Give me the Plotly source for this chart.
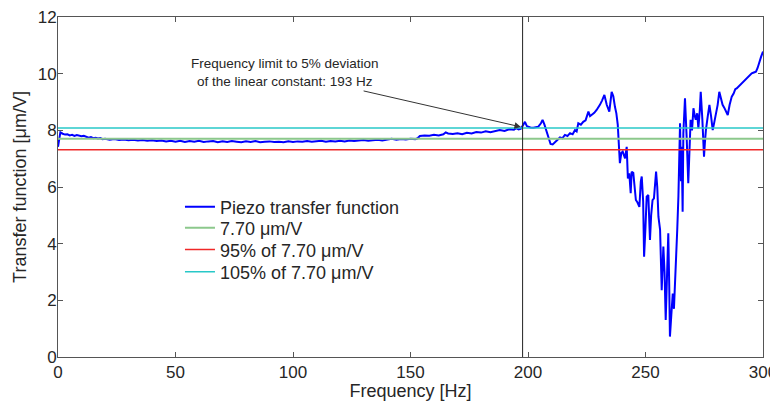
import plotly.graph_objects as go

# ---- data ----
freq = [0, 0.5, 1, 2, 3, 4, 5, 6, 7, 8, 9, 10, 11, 12, 13, 14, 15, 16, 17, 18, 19, 20,
        22, 24, 26, 28, 30, 32, 34, 36, 38, 40, 42, 44, 46, 48, 50, 52, 54, 56, 58, 60,
        62, 64, 66, 68, 70, 72, 74, 76, 78, 80, 82, 84, 86, 88, 90, 92, 94, 96, 98, 100,
        102, 104, 106, 108, 110, 112, 114, 116, 118, 120, 122, 124, 126, 128, 130, 132,
        134, 136, 138, 140, 142, 144, 146, 148, 150, 152, 153, 154, 156, 158, 160, 162,
        164, 165, 166, 168, 170, 172, 174, 176, 178, 180, 182, 184, 186, 188, 190, 192,
        194, 195, 196, 197, 198, 198.7, 199.5,
        200.1, 201, 202.3, 203.5, 204.4, 205.5, 206.2, 207, 207.7, 208.7, 209.6, 210.5,
        211.5, 212.5, 213.6, 214.6, 215.7, 216.8, 217.9, 219, 220, 220.7, 221.4, 222.5,
        223.5, 224.5, 225.7, 226.4, 227.1, 228.2, 229.2, 230, 230.6, 231.5, 232.5, 233.5,
        234.6, 235.6, 236.3, 237, 237.6, 238.2, 238.7, 239.1, 239.7, 240.3, 241.3, 242,
        242.5, 243.1, 243.7, 244.1, 244.8, 245.3, 245.9, 246.6, 247.4, 248, 248.4, 249,
        249.4, 250, 250.5, 251.2, 251.9, 252.4, 253, 253.6, 254.5, 255, 255.5, 256.2,
        256.9, 257.6, 258.1, 258.6, 259.2, 259.7, 260.1, 260.4, 261, 261.6, 262.1, 262.6,
        263.5, 264, 264.4, 264.7, 265.1, 265.4, 265.8, 266.1, 266.8, 267.2, 267.5, 268.2,
        268.8, 269.2, 269.8, 270.4, 271, 271.4, 272, 272.5, 273.1, 273.5, 274.2, 274.5,
        274.9, 275.3, 275.7, 276.5, 277.2, 277.9, 278.6, 279.3, 280, 280.7, 281.4, 282.1,
        282.8, 283.5, 284.2, 285, 285.8, 286.7, 287.5, 288.2, 288.8, 289.6, 290.3, 290.9,
        291.6, 292.3, 293, 293.8, 294.5, 295.2, 296.1, 297, 297.7, 298.4, 299.2, 300]
transfer = [7.42, 7.75, 7.93, 7.88, 7.85, 7.86, 7.82, 7.84, 7.80, 7.83, 7.80, 7.79, 7.81, 7.77,
            7.74, 7.76, 7.72, 7.74, 7.71, 7.73, 7.69, 7.70,
            7.67, 7.69, 7.66, 7.68, 7.65, 7.67, 7.64, 7.66, 7.63, 7.65, 7.62, 7.64, 7.61, 7.63,
            7.60, 7.63, 7.59, 7.62, 7.60, 7.63,
            7.59, 7.61, 7.62, 7.58, 7.61, 7.59, 7.62, 7.60, 7.58, 7.61, 7.59, 7.62, 7.58, 7.60,
            7.61, 7.59, 7.60, 7.58, 7.61, 7.59,
            7.61, 7.60, 7.62, 7.60, 7.61, 7.63, 7.60, 7.62, 7.61, 7.63, 7.61, 7.64, 7.62, 7.64,
            7.66, 7.63,
            7.65, 7.67, 7.64, 7.66, 7.70, 7.67, 7.69, 7.68, 7.70, 7.69, 7.72, 7.80, 7.82, 7.81,
            7.84, 7.82,
            7.86, 7.93, 7.89, 7.87, 7.90, 7.86, 7.91, 7.89, 7.94, 7.92, 7.97, 7.93, 7.98, 8.01,
            7.98, 8.04,
            8.02, 8.08, 8.03, 8.06, 8.20, 8.30, 8.15,
            8.13, 8.10, 8.09, 8.12, 8.13, 8.25, 8.37, 8.20, 8.01, 7.70, 7.52, 7.50,
            7.57, 7.66, 7.75, 7.72, 7.84, 7.80, 7.90, 7.86, 8.01, 7.96, 8.25, 8.20,
            8.30, 8.35, 8.66, 8.50, 8.54, 8.62, 8.72, 8.80, 8.90, 9.05, 9.25, 8.90,
            8.66, 9.36, 9.20, 8.83, 8.60, 8.19, 7.40, 6.84, 7.20, 7.25, 7.01, 7.42,
            6.30, 6.48, 5.78, 6.54, 6.50, 6.00, 5.54, 5.45, 5.30, 6.20, 6.37, 5.50,
            3.54, 4.60, 5.66, 5.72, 4.13, 5.00, 5.54, 5.60, 6.54, 6.00, 4.95, 4.50,
            2.36, 3.90, 3.00, 1.31, 3.50, 4.37, 2.50, 0.72, 1.50, 2.24, 1.70, 2.95,
            4.48, 5.66, 7.07, 8.25, 6.20, 7.42, 5.13, 7.90, 9.13, 8.00, 7.78, 6.13,
            7.50, 8.37, 8.00, 8.78, 8.50, 8.37, 8.60, 8.07, 8.70, 9.36, 8.37, 7.60,
            7.07, 7.60, 8.01, 8.50, 8.90, 8.50, 8.01, 8.30, 8.60, 8.90, 9.36, 9.10,
            8.90, 8.80, 8.65, 8.54, 8.90, 9.19, 9.30, 9.45, 9.48, 9.55, 9.60, 9.66,
            9.70, 9.78, 9.84, 9.90, 9.96, 10.01, 10.04, 10.07, 10.20, 10.42, 10.60, 10.78]

linear_constant = 7.70
ref_range = [0, 300]
limit_freq = 197.7
limit_span = [0, 12]
x_ticks = [0, 50, 100, 150, 200, 250, 300]
y_ticks = [0, 2, 4, 6, 8, 10, 12]

labels = ["Piezo transfer function", "7.70 \u03bcm/V", "95% of 7.70 \u03bcm/V",
          "105% of 7.70 \u03bcm/V"]

fig = go.Figure()
fig.add_trace(go.Scatter(x=freq, y=transfer, mode="lines", name=labels[0], legend="legend",
                         line=dict(color="#0000ff", width=2)))
fig.add_trace(go.Scatter(x=ref_range, y=[linear_constant] * 2, mode="lines", name=labels[1],
                         legend="legend2", line=dict(color="#8cc88c", width=2)))
fig.add_trace(go.Scatter(x=ref_range, y=[linear_constant * 0.95] * 2, mode="lines",
                         name=labels[2], legend="legend3",
                         line=dict(color="#f02828", width=1.5)))
fig.add_trace(go.Scatter(x=ref_range, y=[linear_constant * 1.05] * 2, mode="lines",
                         name=labels[3], legend="legend4",
                         line=dict(color="#28c8c8", width=1.5)))
fig.add_trace(go.Scatter(x=[limit_freq, limit_freq], y=limit_span, mode="lines",
                         showlegend=False, line=dict(color="#222222", width=1)))

font_family = "Liberation Sans, Arial, sans-serif"
axis_common = dict(showgrid=False, zeroline=False, showline=True, linecolor="#555555",
                   linewidth=1, mirror="ticks", ticks="inside", ticklen=5,
                   tickcolor="#555555", tickfont=dict(size=17, color="#262626"),
                   automargin=False, ticklabeloverflow="allow")


def leg(y):
    return dict(x=0.173, y=y, xanchor="left", yanchor="middle",
                bgcolor="rgba(0,0,0,0)", font=dict(size=18, color="#262626"),
                itemwidth=30)


# the page body has an 8px margin, so the figure is sized/offset to compensate
fig.update_layout(
    width=770, height=393,
    margin=dict(l=50, r=15, t=9, b=44),
    paper_bgcolor="white", plot_bgcolor="white",
    font=dict(family=font_family, color="#262626"),
    xaxis=dict(range=[0, 300], tickvals=x_ticks,
               title=dict(text="Frequency [Hz]", font=dict(size=18), standoff=1),
               **axis_common),
    yaxis=dict(range=[0, 12], tickvals=y_ticks, ticklabelstandoff=-3,
               title=dict(text="Transfer function [\u03bcm/V]", font=dict(size=18), standoff=6),
               **axis_common),
    legend=leg(0.441), legend2=leg(0.379), legend3=leg(0.315), legend4=leg(0.250),
    showlegend=True,
    annotations=[dict(x=197, y=8.12, xref="x", yref="y",
                      text="Frequency limit to 5% deviation<br>of the linear constant: 193 Hz",
                      showarrow=True, arrowhead=2, arrowsize=1.3, arrowwidth=1,
                      arrowcolor="#333333", ax=-236, ay=-54,
                      font=dict(size=13.5, color="#262626"))],
)

fig.write_html("out.html")
